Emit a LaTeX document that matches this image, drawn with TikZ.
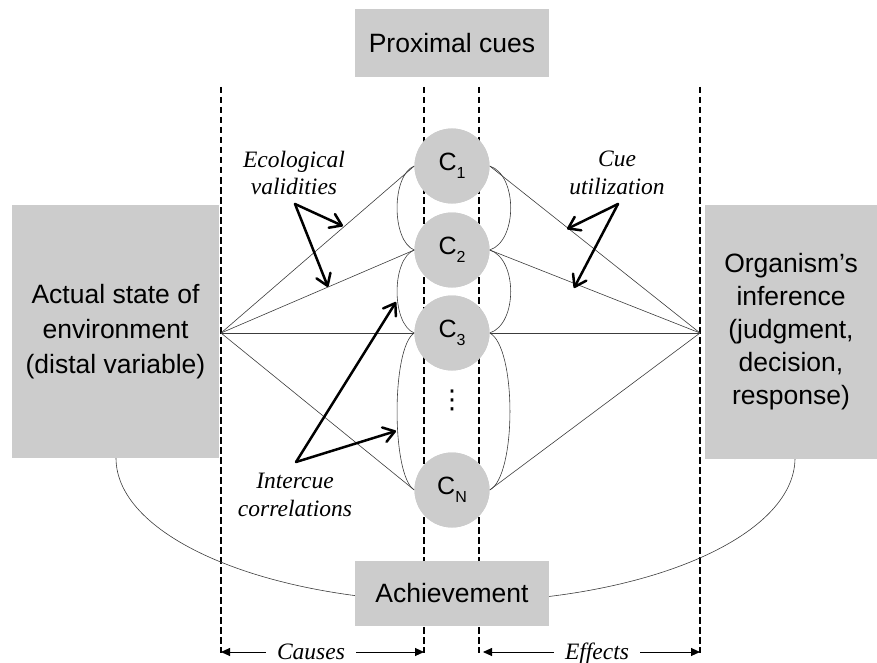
\documentclass[tikz,border=0pt]{standalone}
\usepackage{fontspec}
\setmainfont{Liberation Sans}
\newfontfamily\tnr{Liberation Serif}
\newfontfamily\dejavu{DejaVu Sans}
\usetikzlibrary{arrows.meta}
\definecolor{panel}{RGB}{204,204,204}
\definecolor{fanline}{RGB}{60,60,60}
% cue label with a lowered index
\newcommand{\cue}[1]{C\raisebox{-0.3em}{\fontsize{16}{16}\selectfont #1}}

\begin{document}
\begin{tikzpicture}[x=1pt,y=-1pt,
  panelbox/.style={fill=panel, inner sep=0pt, align=center, font=\fontsize{26.5}{35}\selectfont},
  cuenode/.style={circle, fill=panel, minimum size=75pt, inner sep=0pt, font=\fontsize{25}{25}\selectfont},
  guide/.style={line width=1.3pt, dash pattern=on 6.5pt off 3.5pt},
  fan/.style={line width=0.6pt, draw=fanline},
  pointer/.style={line width=2.5pt, line cap=round, line join=round,
    -{Straight Barb[length=11pt,width=15pt,line width=2.5pt,round]}},
  tag/.style={font=\tnr\itshape\fontsize{23.5}{27.5}\selectfont, align=center},
  spanlabel/.style={tag, inner xsep=11pt, inner ysep=0pt, anchor=base},
  span/.style={line width=0.9pt, -{Triangle[length=9pt,width=8pt]}}
]
\useasboundingbox (0,0) rectangle (877,663);

% vertical guide lines
\coordinate (gLt) at (221,87);  \coordinate (gLb) at (221,653);
\coordinate (gMLt) at (424,87); \coordinate (gMLb) at (424,653);
\coordinate (gMRt) at (479,87); \coordinate (gMRb) at (479,653);
\coordinate (gRt) at (700,87);  \coordinate (gRb) at (700,653);
\draw[guide] (gLt) -- (gLb);
\draw[guide] (gMLt) -- (gMLb);
\draw[guide] (gMRt) -- (gMRb);
\draw[guide] (gRt) -- (gRb);

% cue nodes
\coordinate (envApex) at (221,333);
\coordinate (orgApex) at (700,333);
\path (452,166) node[cuenode] (C1) {\cue{1}}
      (452,250) node[cuenode] (C2) {\cue{2}}
      (452,333) node[cuenode] (C3) {\cue{3}}
      (452,490) node[cuenode] (CN) {\cue{N}};

% lens: links from the distal variable and to the inference
\foreach \c in {C1,C2,C3,CN} {
  \draw[fan] (envApex) -- (\c.west);
  \draw[fan] (orgApex) -- (\c.east);
}

% intercue correlation loops
\draw[fan] (C1.west) .. controls +(-23,9) and +(-23,-9) .. (C2.west);
\draw[fan] (C2.west) .. controls +(-23,9) and +(-23,-9) .. (C3.west);
\draw[fan] (C3.west) .. controls +(-23,14) and +(-23,-14) .. (CN.west);
\draw[fan] (C1.east) .. controls +(28,9) and +(28,-9) .. (C2.east);
\draw[fan] (C2.east) .. controls +(28,9) and +(28,-9) .. (C3.east);
\draw[fan] (C3.east) .. controls +(27,14) and +(27,-14) .. (CN.east);

% redraw cue nodes over the guides and lines
\path (452,166) node[cuenode] {\cue{1}}
      (452,250) node[cuenode] {\cue{2}}
      (452,333) node[cuenode] {\cue{3}}
      (452,490) node[cuenode] {\cue{N}};
\node[font=\dejavu\fontsize{26}{26}\selectfont, inner sep=0pt] (dots) at (452,400) {⋮};

% achievement arc
\coordinate (arcL) at (116,458);
\draw[fan] (arcL) arc[start angle=180, end angle=0, x radius=339.5, y radius=144];

% boxes
\node[panelbox, minimum width=194pt, minimum height=68pt] (prox) at (452,43) {Proximal cues};
\node[panelbox, minimum width=207pt, minimum height=253pt] (env) at (115.5,331.5)
  {Actual state of\\environment\\(distal variable)};
\node[panelbox, minimum width=172pt, minimum height=254pt, font=\fontsize{26.5}{33}\selectfont] (org) at (791,332)
  {Organism’s\\inference\\(judgment,\\decision,\\response)};
\node[panelbox, minimum width=194pt, minimum height=65pt] (ach) at (452,593.5) {Achievement};

% annotations
\node[tag] (eco) at (294,173) {Ecological\\validities};
\coordinate (ecoS) at (295,204);
\coordinate (ecoA) at (343,226);
\coordinate (ecoB) at (328,287);
\draw[pointer] (ecoS) -- (ecoA);
\draw[pointer] (ecoS) -- (ecoB);

\node[tag] (use) at (617,173) {Cue\\utilization};
\coordinate (useS) at (618,204);
\coordinate (useA) at (567,229);
\coordinate (useB) at (574,288);
\draw[pointer] (useS) -- (useA);
\draw[pointer] (useS) -- (useB);

\node[tag] (inter) at (295,495) {Intercue\\correlations};
\coordinate (interS) at (296,462);
\coordinate (interA) at (396,302);
\coordinate (interB) at (396,431);
\draw[pointer] (interS) -- (interA);
\draw[pointer] (interS) -- (interB);

% causes / effects spans
\coordinate (causesL) at (221,652);
\coordinate (causesR) at (424,652);
\node[spanlabel] (causes) at (311,659) {Causes};
\draw[span] (causes.west |- causesL) -- (causesL);
\draw[span] (causes.east |- causesR) -- (causesR);

\coordinate (effectsL) at (483,652);
\coordinate (effectsR) at (700,652);
\node[spanlabel] (effects) at (597,659) {Effects};
\draw[span] (effects.west |- effectsL) -- (effectsL);
\draw[span] (effects.east |- effectsR) -- (effectsR);
\end{tikzpicture}
\end{document}
